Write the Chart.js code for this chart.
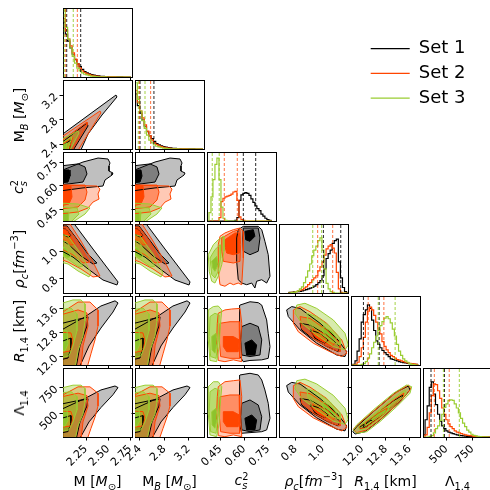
<!DOCTYPE html>
<html>
<head>
<meta charset="utf-8">
<script src="https://cdn.jsdelivr.net/npm/chart.js@4.4.1/dist/chart.umd.min.js"></script>
<style>
  html, body { margin: 0; padding: 0; background: #fff; }
  body { position: relative; width: 490px; height: 490px; overflow: hidden; font-family: "DejaVu Sans", sans-serif; }
  canvas { position: absolute; }
  .title { position: absolute; font-size: 14px; white-space: nowrap; color: #000; line-height: 1; }
  .title sub, .title sup { font-size: 0.7em; line-height: 0; }
  .ss { display: inline-flex; flex-direction: column; font-size: 0.7em; line-height: 0.95; vertical-align: 0.55em; }
</style>
</head>
<body>
<script>
// ---- sets ----
const setNames = ['Set 1', 'Set 2', 'Set 3'];

// ---- axis ticks ----
const mTicks = [2.25, 2.5, 2.75],   mTickText = ['2.25', '2.50', '2.75'];
const mbTicks = [2.4, 2.8, 3.2],    mbTickText = ['2.4', '2.8', '3.2'];
const csTicks = [0.45, 0.6, 0.75],  csTickText = ['0.45', '0.60', '0.75'];
const rhoTicks = [0.8, 1.0],        rhoTickText = ['0.8', '1.0'];
const rTicks = [12.0, 12.8, 13.6],  rTickText = ['12.0', '12.8', '13.6'];
const lamTicks = [500, 750],        lamTickText = ['500', '750'];

// ---- 1D histograms (bin centres, heights per set: Set 1, Set 2, Set 3) ----
const mBins = [2.003, 2.029, 2.055, 2.081, 2.107, 2.133, 2.159, 2.185, 2.211, 2.237, 2.263, 2.289, 2.315, 2.341, 2.367,
  2.393, 2.419, 2.445, 2.471, 2.497, 2.523, 2.549, 2.575, 2.601, 2.627, 2.653, 2.679, 2.705, 2.731, 2.757];
const mHist = [
  [0.8, 0.62, 0.52, 0.42, 0.33, 0.25, 0.19, 0.15, 0.11, 0.08, 0.06, 0.045, 0.035, 0.027, 0.02, 0.015, 0.011, 0.008, 0.006, 0.004, 0.003, 0.002, 0.002, 0.001, 0.001, 0.001, 0, 0, 0, 0],
  [0.85, 0.68, 0.55, 0.45, 0.35, 0.26, 0.19, 0.13, 0.09, 0.065, 0.045, 0.035, 0.025, 0.018, 0.013, 0.01, 0.007, 0.005, 0.003, 0.002, 0.001, 0.001, 0.001, 0, 0, 0, 0, 0, 0, 0],
  [0.97, 0.72, 0.55, 0.42, 0.3, 0.2, 0.13, 0.09, 0.06, 0.04, 0.03, 0.02, 0.012, 0.008, 0.005, 0.003, 0.002, 0.001, 0.001, 0, 0, 0, 0, 0, 0, 0, 0, 0, 0, 0]
];
const mQuant = [[2.032, 2.19], [2.02, 2.152], [2.005, 2.106]];

const mbBins = [2.339, 2.377, 2.414, 2.452, 2.49, 2.527, 2.565, 2.603, 2.64, 2.678, 2.716, 2.754, 2.791, 2.829, 2.867,
  2.904, 2.942, 2.98, 3.018, 3.055, 3.093, 3.131, 3.168, 3.206, 3.244, 3.281, 3.319, 3.357, 3.394, 3.432];
const mbHist = [
  [0.8, 0.63, 0.52, 0.42, 0.33, 0.25, 0.19, 0.15, 0.11, 0.08, 0.06, 0.045, 0.035, 0.027, 0.02, 0.015, 0.011, 0.008, 0.006, 0.004, 0.003, 0.002, 0.002, 0.001, 0.001, 0.001, 0, 0, 0, 0],
  [0.85, 0.68, 0.55, 0.45, 0.35, 0.26, 0.19, 0.13, 0.09, 0.065, 0.045, 0.035, 0.025, 0.018, 0.013, 0.01, 0.007, 0.005, 0.003, 0.002, 0.001, 0.001, 0.001, 0, 0, 0, 0, 0, 0, 0],
  [0.96, 0.72, 0.55, 0.41, 0.3, 0.2, 0.13, 0.09, 0.06, 0.04, 0.03, 0.02, 0.012, 0.008, 0.005, 0.003, 0.002, 0.001, 0.001, 0, 0, 0, 0, 0, 0, 0, 0, 0, 0, 0]
];
const mbQuant = [[2.402, 2.63], [2.39, 2.576], [2.374, 2.484]];

const csBins = [0.371, 0.384, 0.396, 0.409, 0.421, 0.434, 0.447, 0.459, 0.472, 0.484, 0.497, 0.51, 0.522, 0.535, 0.547,
  0.56, 0.573, 0.585, 0.598, 0.61, 0.623, 0.636, 0.648, 0.661, 0.673, 0.686, 0.699, 0.711, 0.724, 0.736, 0.749, 0.762, 0.774];
const csHist = [
  [0, 0, 0, 0, 0, 0, 0, 0, 0, 0, 0, 0, 0, 0, 0.01, 0.05, 0.3, 0.38, 0.4, 0.41, 0.4, 0.37, 0.32, 0.27, 0.22, 0.18, 0.15, 0.1, 0.07, 0.04, 0.02, 0.01, 0.005],
  [0, 0, 0, 0, 0, 0, 0.05, 0.28, 0.33, 0.35, 0.36, 0.37, 0.39, 0.42, 0.43, 0.3, 0.06, 0.02, 0.01, 0, 0, 0, 0, 0, 0, 0, 0, 0, 0, 0, 0, 0, 0],
  [0, 0.12, 0.35, 0.6, 0.82, 0.91, 0.6, 0.2, 0.04, 0.01, 0, 0, 0, 0, 0, 0, 0, 0, 0, 0, 0, 0, 0, 0, 0, 0, 0, 0, 0, 0, 0, 0, 0]
];
const csQuant = [[0.594, 0.672], [0.474, 0.556], [0.398, 0.442]];

const rhoBins = [0.745, 0.76, 0.775, 0.79, 0.805, 0.82, 0.835, 0.85, 0.865, 0.88, 0.895, 0.91, 0.925, 0.94, 0.955,
  0.97, 0.985, 1.0, 1.015, 1.03, 1.045, 1.06, 1.075, 1.09, 1.105, 1.12, 1.135, 1.15, 1.165, 1.18];
const rhoHist = [
  [0.005, 0.01, 0.01, 0.015, 0.02, 0.02, 0.025, 0.03, 0.04, 0.05, 0.06, 0.07, 0.08, 0.1, 0.12, 0.15, 0.18, 0.25, 0.35, 0.5, 0.57, 0.62, 0.72, 0.76, 0.78, 0.45, 0.22, 0.08, 0.02, 0.005],
  [0, 0, 0.01, 0.01, 0.02, 0.03, 0.04, 0.05, 0.07, 0.09, 0.12, 0.15, 0.19, 0.22, 0.25, 0.32, 0.38, 0.45, 0.55, 0.64, 0.68, 0.7, 0.65, 0.58, 0.3, 0.06, 0.01, 0, 0, 0],
  [0, 0, 0.01, 0.01, 0.02, 0.03, 0.06, 0.09, 0.15, 0.23, 0.32, 0.42, 0.54, 0.62, 0.68, 0.76, 0.8, 0.62, 0.35, 0.14, 0.06, 0.02, 0.01, 0, 0, 0, 0, 0, 0, 0]
];
const rhoQuant = [[1.003, 1.13], [0.961, 1.071], [0.925, 0.99]];

const rBins = [11.65, 11.72, 11.79, 11.86, 11.93, 12.0, 12.07, 12.14, 12.21, 12.28, 12.35, 12.42, 12.49, 12.56, 12.63, 12.7, 12.77,
  12.84, 12.91, 12.98, 13.05, 13.12, 13.19, 13.26, 13.33, 13.4, 13.47, 13.54, 13.61, 13.68, 13.75, 13.82, 13.89];
const rHist = [
  [0, 0.01, 0.06, 0.2, 0.38, 0.62, 0.73, 0.8, 0.87, 0.82, 0.65, 0.5, 0.35, 0.3, 0.25, 0.21, 0.18, 0.15, 0.12, 0.09, 0.08, 0.07, 0.06, 0.05, 0.04, 0.035, 0.03, 0.025, 0.02, 0.015, 0.01, 0.01, 0.005],
  [0, 0, 0.01, 0.04, 0.12, 0.25, 0.4, 0.62, 0.78, 0.84, 0.8, 0.72, 0.62, 0.52, 0.45, 0.34, 0.27, 0.22, 0.18, 0.14, 0.12, 0.1, 0.08, 0.07, 0.06, 0.05, 0.04, 0.03, 0.025, 0.02, 0.015, 0.01, 0.005],
  [0, 0, 0, 0, 0, 0.01, 0.02, 0.05, 0.1, 0.16, 0.25, 0.33, 0.42, 0.5, 0.57, 0.63, 0.68, 0.7, 0.67, 0.61, 0.52, 0.42, 0.3, 0.2, 0.14, 0.09, 0.06, 0.04, 0.02, 0.01, 0.005, 0, 0]
];
const rQuant = [[12.04, 12.57], [12.2, 12.73], [12.54, 13.11]];

const lamBins = [286, 306, 326, 346, 366, 386, 406, 426, 446, 466, 486, 506, 526, 546, 566, 586, 606,
  626, 646, 666, 686, 706, 726, 746, 766, 786, 806, 826, 846, 866, 886, 906, 926];
const lamHist = [
  [0.03, 0.25, 0.45, 0.72, 0.8, 0.62, 0.47, 0.33, 0.23, 0.16, 0.12, 0.09, 0.07, 0.06, 0.05, 0.04, 0.03, 0.025, 0.02, 0.015, 0.012, 0.01, 0.008, 0.006, 0.005, 0.004, 0.003, 0.002, 0.002, 0.001, 0.001, 0, 0],
  [0, 0.03, 0.14, 0.35, 0.6, 0.77, 0.76, 0.67, 0.56, 0.42, 0.33, 0.25, 0.19, 0.15, 0.12, 0.09, 0.07, 0.06, 0.05, 0.04, 0.03, 0.025, 0.02, 0.015, 0.01, 0.008, 0.006, 0.005, 0.004, 0.003, 0.002, 0.001, 0],
  [0, 0, 0, 0.01, 0.02, 0.06, 0.12, 0.16, 0.24, 0.33, 0.43, 0.48, 0.53, 0.54, 0.53, 0.48, 0.42, 0.35, 0.27, 0.2, 0.15, 0.1, 0.07, 0.04, 0.025, 0.015, 0.01, 0.005, 0.003, 0.002, 0.001, 0, 0]
];
const lamQuant = [[353, 482], [385, 528], [472, 625]];

// ---- 2D credible regions: [set][outer, middle, core], flat x,y vertex lists ----
const mbM = [
  [[1.956,2.533, 2.589,3.204, 2.6,3.172, 2.431,2.877, 2.273,2.565, 2.182,2.27, 1.956,2.27],
   [1.956,2.402, 2.261,2.746, 2.273,2.697, 2.092,2.27, 1.956,2.27],
   [1.956,2.353, 2.08,2.467, 2.058,2.27, 1.956,2.27]],
  [[1.956,2.5, 2.408,2.942, 2.419,2.91, 2.148,2.27, 1.956,2.27],
   [1.956,2.434, 2.261,2.762, 2.261,2.713, 2.08,2.27, 1.956,2.27],
   [1.956,2.369, 2.103,2.516, 2.047,2.27, 1.956,2.27]],
  [[1.956,2.467, 2.16,2.615, 2.171,2.582, 2.058,2.27, 1.956,2.27],
   [1.956,2.402, 2.092,2.516, 2.035,2.27, 1.956,2.27],
   [1.956,2.353, 2.035,2.418, 2.013,2.27, 1.956,2.27]]
];

const csM = [
  [[1.956,0.693, 2.216,0.75, 2.386,0.775, 2.499,0.769, 2.521,0.744, 2.51,0.725, 2.51,0.693, 2.555,0.681, 2.544,0.668, 2.465,0.637, 2.442,0.599, 2.216,0.587, 1.956,0.568],
   [1.956,0.725, 2.16,0.738, 2.239,0.719, 2.261,0.675, 2.216,0.624, 1.956,0.605],
   [1.956,0.7, 2.058,0.7, 2.069,0.662, 2.047,0.624, 1.956,0.618]],
  [[1.956,0.605, 2.374,0.599, 2.408,0.58, 2.386,0.549, 2.397,0.517, 2.329,0.498, 2.273,0.461, 2.16,0.436, 1.956,0.423],
   [1.956,0.605, 2.239,0.605, 2.261,0.561, 2.239,0.511, 2.16,0.467, 1.956,0.455],
   [1.956,0.599, 2.08,0.599, 2.092,0.53, 2.058,0.486, 1.956,0.473]],
  [[1.956,0.492, 2.16,0.486, 2.295,0.461, 2.239,0.423, 2.103,0.373, 1.956,0.36],
   [1.956,0.467, 2.148,0.461, 2.171,0.423, 2.08,0.373, 1.956,0.36],
   [1.956,0.436, 2.058,0.436, 2.047,0.36, 1.956,0.36]]
];

const csMB = [
  [[2.271,0.693, 2.648,0.75, 2.893,0.775, 3.057,0.769, 3.09,0.744, 3.073,0.725, 3.073,0.693, 3.139,0.681, 3.123,0.668, 3.008,0.637, 2.975,0.599, 2.648,0.587, 2.271,0.568],
   [2.271,0.725, 2.566,0.738, 2.68,0.719, 2.713,0.675, 2.648,0.624, 2.271,0.605],
   [2.271,0.7, 2.418,0.7, 2.435,0.662, 2.402,0.624, 2.271,0.618]],
  [[2.271,0.605, 2.877,0.599, 2.926,0.58, 2.893,0.549, 2.91,0.517, 2.811,0.498, 2.73,0.461, 2.566,0.436, 2.271,0.423],
   [2.271,0.605, 2.68,0.605, 2.713,0.561, 2.68,0.511, 2.566,0.467, 2.271,0.455],
   [2.271,0.599, 2.451,0.599, 2.467,0.53, 2.418,0.486, 2.271,0.473]],
  [[2.271,0.492, 2.566,0.486, 2.762,0.461, 2.68,0.423, 2.484,0.373, 2.271,0.36],
   [2.271,0.467, 2.549,0.461, 2.582,0.423, 2.451,0.373, 2.271,0.36],
   [2.271,0.436, 2.418,0.436, 2.402,0.36, 2.271,0.36]]
];

const rhoM = [
  [[1.956,1.218, 2.092,1.218, 2.329,1.015, 2.612,0.777, 2.6,0.755, 2.442,0.791, 2.273,0.871, 2.103,0.957, 1.956,1.008],
   [1.956,1.182, 2.035,1.182, 2.273,0.979, 2.374,0.914, 2.329,0.907, 2.193,0.965, 2.047,1.051, 1.956,1.088],
   [1.956,1.167, 2.024,1.16, 2.08,1.109, 2.047,1.102, 1.956,1.131]],
  [[1.956,1.218, 2.047,1.218, 2.193,1.073, 2.329,0.921, 2.408,0.82, 2.329,0.813, 2.193,0.871, 2.047,0.921, 1.956,0.943],
   [1.956,1.174, 2.035,1.174, 2.148,1.08, 2.25,0.965, 2.295,0.921, 2.216,0.914, 2.103,0.972, 1.956,1.022],
   [1.956,1.16, 2.024,1.16, 2.08,1.102, 2.126,1.051, 2.08,1.044, 1.956,1.102]],
  [[1.956,1.124, 2.047,1.109, 2.193,0.979, 2.306,0.842, 2.284,0.813, 2.16,0.856, 2.047,0.907, 1.956,0.921],
   [1.956,1.08, 2.035,1.066, 2.148,0.957, 2.216,0.892, 2.171,0.885, 2.058,0.936, 1.956,0.979],
   [1.956,1.037, 2.024,1.022, 2.08,0.965, 2.047,0.95, 1.956,0.986]]
];

const rhoMB = [
  [[2.271,1.218, 2.467,1.218, 2.811,1.015, 3.221,0.777, 3.205,0.755, 2.975,0.791, 2.73,0.871, 2.484,0.957, 2.271,1.008],
   [2.271,1.182, 2.386,1.182, 2.73,0.979, 2.877,0.914, 2.811,0.907, 2.615,0.965, 2.402,1.051, 2.271,1.088],
   [2.271,1.167, 2.369,1.16, 2.451,1.109, 2.402,1.102, 2.271,1.131]],
  [[2.271,1.218, 2.402,1.218, 2.615,1.073, 2.811,0.921, 2.926,0.82, 2.811,0.813, 2.615,0.871, 2.402,0.921, 2.271,0.943],
   [2.271,1.174, 2.386,1.174, 2.549,1.08, 2.697,0.965, 2.762,0.921, 2.648,0.914, 2.484,0.972, 2.271,1.022],
   [2.271,1.16, 2.369,1.16, 2.451,1.102, 2.517,1.051, 2.451,1.044, 2.271,1.102]],
  [[2.271,1.124, 2.402,1.109, 2.615,0.979, 2.779,0.842, 2.746,0.813, 2.566,0.856, 2.402,0.907, 2.271,0.921],
   [2.271,1.08, 2.386,1.066, 2.549,0.957, 2.648,0.892, 2.582,0.885, 2.418,0.936, 2.271,0.979],
   [2.271,1.037, 2.369,1.022, 2.451,0.965, 2.402,0.95, 2.271,0.986]]
];

const rhoCs = [
  [[0.594,1.179, 0.688,1.179, 0.71,1.155, 0.73,1.071, 0.751,0.974, 0.762,0.818, 0.741,0.769, 0.71,0.793, 0.678,0.782, 0.667,0.733, 0.647,0.769, 0.615,0.757, 0.584,0.769, 0.562,0.793, 0.552,0.926, 0.552,1.095, 0.562,1.155],
   [0.594,1.167, 0.688,1.167, 0.699,1.095, 0.688,0.999, 0.636,0.974, 0.594,0.999, 0.59,1.095],
   [0.604,1.143, 0.657,1.155, 0.667,1.107, 0.636,1.071, 0.609,1.082]],
  [[0.447,1.107, 0.478,1.131, 0.531,1.155, 0.573,1.167, 0.594,1.143, 0.594,0.95, 0.584,0.757, 0.562,0.769, 0.531,0.757, 0.51,0.769, 0.478,0.746, 0.447,0.757, 0.436,0.854, 0.436,1.046],
   [0.458,1.095, 0.531,1.143, 0.573,1.155, 0.577,1.046, 0.573,0.926, 0.531,0.914, 0.468,0.926, 0.458,0.999],
   [0.478,1.082, 0.541,1.131, 0.568,1.131, 0.568,0.986, 0.531,0.974, 0.489,0.986, 0.478,1.035]],
  [[0.373,0.974, 0.405,1.046, 0.436,1.082, 0.468,1.107, 0.472,0.999, 0.458,0.902, 0.436,0.818, 0.415,0.769, 0.395,0.782, 0.379,0.854],
   [0.384,0.95, 0.415,1.01, 0.447,1.046, 0.451,0.95, 0.436,0.854, 0.415,0.806, 0.395,0.83],
   [0.395,0.926, 0.426,0.962, 0.436,0.902, 0.415,0.854, 0.401,0.878]]
];

const rM = [
  [[1.956,13.09, 2.216,13.28, 2.419,13.68, 2.578,13.85, 2.612,13.78, 2.555,13.48, 2.419,12.95, 2.284,12.36, 2.171,11.63, 1.956,11.63],
   [1.956,12.86, 2.193,13.25, 2.273,13.32, 2.261,13.02, 2.182,12.36, 2.137,11.63, 1.956,11.63],
   [1.956,12.49, 2.08,12.62, 2.08,12.29, 2.047,11.96, 1.956,11.9]],
  [[1.956,13.42, 2.16,13.81, 2.295,13.81, 2.386,13.55, 2.386,13.02, 2.352,12.56, 2.306,12.1, 2.261,11.63, 1.956,11.63],
   [1.956,13.38, 2.16,13.55, 2.261,13.45, 2.273,13.02, 2.216,12.36, 2.193,11.63, 1.956,11.63],
   [1.956,12.82, 2.08,12.79, 2.103,12.53, 2.08,12.2, 1.956,12.13]],
  [[1.956,13.75, 2.103,13.88, 2.193,13.88, 2.239,13.75, 2.239,13.19, 2.216,12.69, 2.16,12.2, 2.126,11.63, 1.956,11.63],
   [1.956,13.55, 2.08,13.61, 2.148,13.42, 2.148,12.86, 2.103,12.36, 2.058,12.03, 1.956,11.96],
   [1.956,12.86, 2.035,12.86, 2.047,12.43, 2.013,12.2, 1.956,12.2]]
];

const rMB = [
  [[2.271,13.09, 2.648,13.28, 2.942,13.68, 3.172,13.85, 3.221,13.78, 3.139,13.48, 2.942,12.95, 2.746,12.36, 2.582,11.63, 2.271,11.63],
   [2.271,12.86, 2.615,13.25, 2.73,13.32, 2.713,13.02, 2.598,12.36, 2.533,11.63, 2.271,11.63],
   [2.271,12.49, 2.451,12.62, 2.451,12.29, 2.402,11.96, 2.271,11.9]],
  [[2.271,13.42, 2.566,13.81, 2.762,13.81, 2.893,13.55, 2.893,13.02, 2.844,12.56, 2.779,12.1, 2.713,11.63, 2.271,11.63],
   [2.271,13.38, 2.566,13.55, 2.713,13.45, 2.73,13.02, 2.648,12.36, 2.615,11.63, 2.271,11.63],
   [2.271,12.82, 2.451,12.79, 2.484,12.53, 2.451,12.2, 2.271,12.13]],
  [[2.271,13.75, 2.484,13.88, 2.615,13.88, 2.68,13.75, 2.68,13.19, 2.648,12.69, 2.566,12.2, 2.517,11.63, 2.271,11.63],
   [2.271,13.55, 2.451,13.61, 2.549,13.42, 2.549,12.86, 2.484,12.36, 2.418,12.03, 2.271,11.96],
   [2.271,12.86, 2.386,12.86, 2.402,12.43, 2.353,12.2, 2.271,12.2]]
];

const rCs = [
  [[0.573,13.71, 0.636,13.82, 0.688,13.79, 0.71,13.71, 0.741,13.22, 0.751,12.78, 0.762,12.34, 0.751,11.95, 0.71,11.9, 0.636,11.88, 0.594,11.84, 0.573,12.01, 0.568,12.89],
   [0.584,13.0, 0.636,13.11, 0.688,13.0, 0.71,12.56, 0.699,12.06, 0.636,12.01, 0.584,12.06, 0.577,12.56],
   [0.604,12.45, 0.647,12.56, 0.678,12.39, 0.667,12.06, 0.615,12.06]],
  [[0.436,13.44, 0.478,13.55, 0.521,13.58, 0.573,13.6, 0.584,13.11, 0.577,12.45, 0.584,11.84, 0.531,11.9, 0.478,11.84, 0.436,11.88, 0.426,12.56, 0.43,13.11],
   [0.447,13.11, 0.51,13.16, 0.568,13.16, 0.573,12.56, 0.568,11.95, 0.51,11.95, 0.451,12.01, 0.442,12.56],
   [0.468,12.67, 0.531,12.67, 0.568,12.56, 0.562,12.17, 0.489,12.17, 0.468,12.34]],
  [[0.373,13.55, 0.405,13.66, 0.436,13.68, 0.458,13.55, 0.447,12.89, 0.442,12.34, 0.426,11.84, 0.384,11.88, 0.373,12.56],
   [0.384,13.33, 0.415,13.44, 0.442,13.38, 0.436,12.56, 0.422,11.95, 0.388,12.01, 0.379,12.67],
   [0.395,12.67, 0.422,12.78, 0.43,12.45, 0.415,12.12, 0.397,12.23]]
];

const rRho = [
  [[0.734,13.55, 0.771,13.66, 0.832,13.6, 0.978,13.11, 1.1,12.61, 1.174,12.17, 1.161,12.01, 1.1,12.06, 0.954,12.45, 0.832,12.89, 0.746,13.33],
   [0.832,13.11, 0.905,13.05, 1.027,12.72, 1.125,12.34, 1.112,12.17, 1.027,12.34, 0.905,12.67, 0.844,12.89],
   [0.905,12.89, 0.978,12.78, 1.039,12.56, 1.015,12.45, 0.942,12.61]],
  [[0.783,13.55, 0.832,13.66, 0.905,13.49, 1.027,13.11, 1.137,12.56, 1.174,12.12, 1.137,12.01, 1.051,12.17, 0.929,12.45, 0.819,12.83, 0.783,13.11],
   [0.832,13.33, 0.905,13.27, 1.027,12.89, 1.125,12.45, 1.125,12.17, 1.051,12.28, 0.929,12.61, 0.844,12.94],
   [0.929,12.94, 1.027,12.72, 1.088,12.45, 1.064,12.34, 0.966,12.58, 0.917,12.78]],
  [[0.808,13.71, 0.868,13.77, 0.954,13.6, 1.075,13.22, 1.161,12.78, 1.185,12.39, 1.161,12.23, 1.075,12.34, 0.954,12.72, 0.844,13.11, 0.795,13.44],
   [0.881,13.44, 0.954,13.33, 1.051,13.0, 1.125,12.61, 1.125,12.39, 1.064,12.5, 0.966,12.83, 0.892,13.11],
   [1.002,13.0, 1.064,12.83, 1.1,12.61, 1.075,12.5, 1.027,12.67, 0.998,12.83]]
];

const lamM = [
  [[1.956,590, 2.216,636, 2.419,728, 2.578,766, 2.612,751, 2.555,682, 2.419,559, 2.284,421, 2.171,248, 1.956,248],
   [1.956,536, 2.193,628, 2.273,643, 2.261,574, 2.182,421, 2.137,248, 1.956,248],
   [1.956,451, 2.08,482, 2.08,405, 2.047,328, 1.956,313]],
  [[1.956,666, 2.16,758, 2.295,758, 2.386,697, 2.386,574, 2.352,467, 2.306,359, 2.261,248, 1.956,248],
   [1.956,659, 2.16,697, 2.261,674, 2.273,574, 2.216,421, 2.193,248, 1.956,248],
   [1.956,528, 2.08,520, 2.103,459, 2.08,382, 1.956,367]],
  [[1.956,743, 2.103,774, 2.193,774, 2.239,743, 2.239,613, 2.216,497, 2.16,382, 2.126,248, 1.956,248],
   [1.956,697, 2.08,712, 2.148,666, 2.148,536, 2.103,421, 2.058,344, 1.956,328],
   [1.956,536, 2.035,536, 2.047,436, 2.013,382, 1.956,382]]
];

const lamMB = [
  [[2.271,590, 2.648,636, 2.942,728, 3.172,766, 3.221,751, 3.139,682, 2.942,559, 2.746,421, 2.582,248, 2.271,248],
   [2.271,536, 2.615,628, 2.73,643, 2.713,574, 2.598,421, 2.533,248, 2.271,248],
   [2.271,451, 2.451,482, 2.451,405, 2.402,328, 2.271,313]],
  [[2.271,666, 2.566,758, 2.762,758, 2.893,697, 2.893,574, 2.844,467, 2.779,359, 2.713,248, 2.271,248],
   [2.271,659, 2.566,697, 2.713,674, 2.73,574, 2.648,421, 2.615,248, 2.271,248],
   [2.271,528, 2.451,520, 2.484,459, 2.451,382, 2.271,367]],
  [[2.271,743, 2.484,774, 2.615,774, 2.68,743, 2.68,613, 2.648,497, 2.566,382, 2.517,248, 2.271,248],
   [2.271,697, 2.451,712, 2.549,666, 2.549,536, 2.484,421, 2.418,344, 2.271,328],
   [2.271,536, 2.386,536, 2.402,436, 2.353,382, 2.271,382]]
];

const lamCs = [
  [[0.573,872, 0.636,888, 0.688,872, 0.71,824, 0.73,728, 0.751,600, 0.762,456, 0.741,344, 0.71,327, 0.636,318, 0.584,312, 0.568,408, 0.568,663],
   [0.584,600, 0.636,632, 0.688,584, 0.71,471, 0.699,344, 0.636,327, 0.584,344, 0.577,471],
   [0.604,456, 0.647,488, 0.678,440, 0.667,344, 0.615,344]],
  [[0.436,759, 0.478,807, 0.531,817, 0.573,824, 0.584,663, 0.577,471, 0.584,279, 0.531,296, 0.478,279, 0.436,289, 0.426,504, 0.43,663],
   [0.447,663, 0.51,680, 0.568,680, 0.573,488, 0.568,312, 0.51,312, 0.451,327, 0.442,488],
   [0.468,519, 0.531,519, 0.568,488, 0.562,375, 0.489,375, 0.468,424]],
  [[0.373,759, 0.405,807, 0.436,807, 0.458,759, 0.447,568, 0.442,408, 0.426,279, 0.384,296, 0.373,504],
   [0.384,711, 0.415,744, 0.442,728, 0.436,488, 0.422,312, 0.388,327, 0.379,519],
   [0.395,519, 0.422,552, 0.43,456, 0.415,360, 0.397,392]]
];

const lamRho = [
  [[0.734,770, 0.771,801, 0.832,786, 0.978,646, 1.1,507, 1.174,382, 1.161,335, 1.1,351, 0.954,460, 0.832,584, 0.746,708],
   [0.832,646, 0.905,631, 1.027,538, 1.125,428, 1.112,382, 1.027,428, 0.905,521, 0.844,584],
   [0.905,584, 0.978,553, 1.039,491, 1.015,460, 0.942,507]],
  [[0.783,770, 0.832,801, 0.905,755, 1.027,646, 1.137,491, 1.174,367, 1.137,335, 1.051,382, 0.929,460, 0.819,568, 0.783,646],
   [0.832,708, 0.905,693, 1.027,584, 1.125,460, 1.125,382, 1.051,414, 0.929,507, 0.844,600],
   [0.929,600, 1.027,538, 1.088,460, 1.064,428, 0.966,497, 0.917,553]],
  [[0.808,817, 0.868,832, 0.954,786, 1.075,677, 1.161,553, 1.185,445, 1.161,398, 1.075,428, 0.954,538, 0.844,646, 0.795,739],
   [0.881,739, 0.954,708, 1.051,615, 1.125,507, 1.125,445, 1.064,475, 0.966,568, 0.892,646],
   [1.002,615, 1.064,568, 1.1,507, 1.075,475, 1.027,521, 0.998,568]]
];

const lamR = [
  [[11.68,327, 11.81,375, 12.37,519, 13.16,711, 13.56,766, 13.61,728, 13.27,615, 12.6,440, 12.09,327, 11.76,305],
   [11.89,363, 12.36,469, 13.04,622, 13.38,680, 13.31,632, 12.63,478, 12.13,373, 11.92,353],
   [12.03,382, 12.3,440, 12.36,421, 12.09,363]],
  [[11.7,351, 11.87,401, 12.43,536, 13.11,696, 13.56,776, 13.64,737, 13.27,615, 12.66,456, 12.15,344, 11.81,318],
   [11.89,377, 12.43,488, 13.11,641, 13.41,699, 13.38,661, 13.11,593, 12.57,459, 12.09,363, 11.92,353],
   [12.09,411, 12.5,497, 12.84,555, 12.8,517, 12.43,449, 12.16,392]],
  [[11.7,344, 11.81,392, 12.37,536, 13.05,696, 13.5,776, 13.67,759, 13.61,696, 13.16,567, 12.6,424, 12.15,327, 11.81,312],
   [11.87,375, 12.37,488, 13.05,648, 13.44,728, 13.5,696, 13.16,600, 12.6,456, 12.15,360, 11.92,344],
   [12.04,408, 12.49,504, 12.94,584, 12.88,536, 12.49,456, 12.15,392]]
];

// ---- lookups ----
const tickVals = [mTicks, mbTicks, csTicks, rhoTicks, rTicks, lamTicks];
const tickText = [mTickText, mbTickText, csTickText, rhoTickText, rTickText, lamTickText];
const colMin = [1.99, 2.32, 0.365, 0.678, 11.62, 276];
const colMax = [2.77, 3.45, 0.80, 1.183, 13.95, 939];
const rowMin = [0, 2.32, 0.379, 0.697, 11.73, 276];
const rowMax = [1, 3.45, 0.813, 1.196, 14.01, 939];
const diagonal = [
  [mBins, mHist, mQuant], [mbBins, mbHist, mbQuant], [csBins, csHist, csQuant],
  [rhoBins, rhoHist, rhoQuant], [rBins, rHist, rQuant], [lamBins, lamHist, lamQuant]
];
const contours = {
  '1,0': mbM,
  '2,0': csM, '2,1': csMB,
  '3,0': rhoM, '3,1': rhoMB, '3,2': rhoCs,
  '4,0': rM, '4,1': rMB, '4,2': rCs, '4,3': rRho,
  '5,0': lamM, '5,1': lamMB, '5,2': lamCs, '5,3': lamRho, '5,4': lamR
};

// ---- styles ----
const lineColors = ['#000000', '#ff4500', '#9acd32'];
const dashColors = ['rgba(0,0,0,0.85)', 'rgba(255,69,0,0.75)', 'rgba(154,205,50,0.9)'];
const fillColors = [
  ['rgba(0,0,0,0.25)', 'rgba(0,0,0,0.34)', 'rgba(0,0,0,1)'],
  ['rgba(255,69,0,0.29)', 'rgba(255,69,0,0.45)', 'rgba(255,69,0,1)'],
  ['rgba(154,205,50,0.4)', 'rgba(154,205,50,0.5)', 'rgba(140,195,45,1)']
];
const PW = 69, PH = 69;
const FONT = 'DejaVu Sans';

function toPoints(flat) {
  const p = [];
  for (let i = 0; i < flat.length; i += 2) p.push({x: flat[i], y: flat[i + 1]});
  p.push({x: flat[0], y: flat[1]});
  return p;
}

function contourDatasets(sets) {
  const ds = [];
  sets.forEach((levels, s) => levels.forEach((poly, l) => ds.push({
    data: toPoints(poly), showLine: true, fill: 'shape', backgroundColor: fillColors[s][l],
    borderColor: 'transparent', borderWidth: 0, pointRadius: 0, tension: 0
  })));
  sets.forEach((levels, s) => levels.forEach(poly => ds.push({
    data: toPoints(poly), showLine: true, fill: false, borderColor: lineColors[s],
    borderWidth: 1, pointRadius: 0, tension: 0
  })));
  return ds;
}

function histDatasets(bins, hists, quants) {
  const ds = [];
  hists.forEach((h, s) => ds.push({
    data: bins.map((x, i) => ({x, y: h[i]})), showLine: true, stepped: 'middle', fill: false,
    borderColor: lineColors[s], borderWidth: 1.2, pointRadius: 0
  }));
  quants.forEach((q, s) => q.forEach(v => ds.push({
    data: [{x: v, y: 0}, {x: v, y: 1}], showLine: true, fill: false,
    borderColor: dashColors[s], borderWidth: 1, borderDash: [3, 2], pointRadius: 0
  })));
  return ds;
}

function zeroPadding(s) { s.paddingLeft = 0; s.paddingRight = 0; s.paddingTop = 0; s.paddingBottom = 0; }

function frameAxis(pos) {
  return {
    type: 'linear', position: pos, display: true,
    grid: {drawOnChartArea: false, drawTicks: false},
    ticks: {display: false},
    border: {display: true, color: '#000', width: 1},
    afterFit: s => { if (pos === 'top') s.height = 0; else s.width = 0; zeroPadding(s); }
  };
}

function addPanel(r, c) {
  const diag = r === c;
  const leftW = c === 0 ? 63 : (r === 5 ? 24 : 6);
  const botH = r === 5 ? 53 : (c === 0 ? 14 : 6);
  const x0 = 63 + 72 * c, y0 = 8 + 72 * r;
  const cv = document.createElement('canvas');
  cv.width = leftW + PW + 2;
  cv.height = 2 + PH + botH;
  cv.style.left = (x0 - leftW) + 'px';
  cv.style.top = (y0 - 2) + 'px';
  document.body.appendChild(cv);

  const datasets = diag ? histDatasets(...diagonal[c]) : contourDatasets(contours[r + ',' + c]);
  datasets.forEach((d, i) => { d.order = -i; });

  const tickFont = {family: FONT, size: 11};
  new Chart(cv, {
    type: 'scatter',
    data: {datasets},
    options: {
      responsive: false, animation: false, devicePixelRatio: 1, events: [],
      layout: {padding: {top: 2, right: 2, left: 0, bottom: 0}},
      plugins: {legend: {display: false}, tooltip: {enabled: false}},
      scales: {
        x: {
          type: 'linear', position: 'bottom', min: colMin[c], max: colMax[c],
          afterBuildTicks: s => { s.ticks = tickVals[c].map(v => ({value: v})); },
          afterFit: s => { s.height = botH; zeroPadding(s); },
          grid: {drawOnChartArea: false, tickLength: 3.5, tickColor: '#000', tickWidth: 1},
          border: {color: '#000', width: 1},
          ticks: {
            display: r === 5, autoSkip: false, minRotation: 45, maxRotation: 45, padding: 2,
            color: '#000', font: tickFont, callback: v => tickText[c][tickVals[c].indexOf(v)]
          }
        },
        y: {
          type: 'linear', position: 'left', min: diag ? 0 : rowMin[r], max: diag ? 1 : rowMax[r],
          afterBuildTicks: s => { s.ticks = diag ? [] : tickVals[r].map(v => ({value: v})); },
          afterFit: s => { s.width = leftW; zeroPadding(s); },
          grid: {drawOnChartArea: false, drawTicks: !diag, tickLength: 3.5, tickColor: '#000', tickWidth: 1},
          border: {color: '#000', width: 1},
          ticks: {
            display: c === 0 && !diag, autoSkip: false, minRotation: 45, maxRotation: 45, padding: 3,
            color: '#000', font: tickFont, callback: v => tickText[r][tickVals[r].indexOf(v)]
          }
        },
        xt: frameAxis('top'),
        yr: frameAxis('right')
      }
    }
  });
}

for (let r = 0; r < 6; r++) for (let c = 0; c <= r; c++) addPanel(r, c);

// ---- axis titles ----
const axisTitles = [
  'M [<i>M</i><sub>⊙</sub>]',
  'M<sub><i>B</i></sub> [<i>M</i><sub>⊙</sub>]',
  '<i>c</i><span class="ss"><span>2</span><span><i>s</i></span></span>',
  '<i>ρ</i><sub><i>c</i></sub>[<i>fm</i><sup>−3</sup>]',
  '<i>R</i><sub>1.4</sub> [km]',
  'Λ<sub>1.4</sub>'
];
axisTitles.forEach((html, i) => {
  const b = document.createElement('div');
  b.className = 'title';
  b.innerHTML = html;
  b.style.left = (63 + 72 * i + PW / 2) + 'px';
  b.style.top = '481px';
  b.style.transform = 'translate(-50%, -50%)';
  document.body.appendChild(b);
  if (i > 0) {
    const l = document.createElement('div');
    l.className = 'title';
    l.innerHTML = html;
    l.style.left = '19px';
    l.style.top = (8 + 72 * i + PH / 2) + 'px';
    l.style.transform = 'translate(-50%, -50%) rotate(-90deg)';
    document.body.appendChild(l);
  }
});

// ---- legend ----
const lg = document.createElement('canvas');
lg.width = 126; lg.height = 200;
lg.style.left = '364px'; lg.style.top = '33px';
document.body.appendChild(lg);
new Chart(lg, {
  type: 'line',
  data: {datasets: setNames.map((n, i) => ({label: n, data: [], borderColor: lineColors[i], backgroundColor: lineColors[i], borderWidth: 1.2}))},
  options: {
    responsive: false, animation: false, devicePixelRatio: 1, events: [],
    layout: {padding: 0},
    scales: {x: {display: false}, y: {display: false}},
    plugins: {
      tooltip: {enabled: false},
      legend: {
        display: true, position: 'top', align: 'start',
        labels: {usePointStyle: true, pointStyle: 'line', pointStyleWidth: 39, padding: 6.7, color: '#000', font: {family: FONT, size: 18}}
      }
    }
  }
});
</script>
</body>
</html>
